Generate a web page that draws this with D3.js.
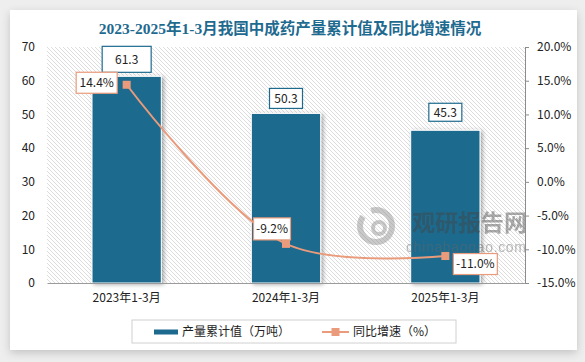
<!DOCTYPE html>
<html>
<head>
<meta charset="utf-8">
<script src="https://cdn.jsdelivr.net/npm/d3@7"></script>
<style>
  body { margin: 0; background: #eeeeee; }
  svg { display: block; }
  text { font-family: "Noto Sans CJK SC", "Liberation Sans", sans-serif; }
</style>
</head>
<body>
<div id="chart"></div>
<script>
// data
const categories = ["2023年1-3月", "2024年1-3月", "2025年1-3月"];
const output = [61.3, 50.3, 45.3];       // 产量累计值（万吨）
const growth = [14.4, -9.2, -11.0];      // 同比增速（%）
const leftTicks = [0, 10, 20, 30, 40, 50, 60, 70];
const rightTicks = [-15, -10, -5, 0, 5, 10, 15, 20];

const width = 585, height = 362;
const plot = { left: 47, right: 525, top: 47, bottom: 283 };
const barColor = "#1d6a8e", lineColor = "#e99b7b";

// label box layout (hand placed like the original)
const valueBoxes = [
  { w: 49, h: 26, gap: 4 },
  { w: 33, h: 20, gap: 5 },
  { w: 33, h: 18, gap: 9 }
];
const growthBoxes = [
  { dx: -30, dy: -2, w: 41, h: 21 },
  { dx: -14, dy: -15, w: 37, h: 22 },
  { dx: 30, dy: 8, w: 44, h: 21 }
];

let svg = d3.select("#chart").append("svg")
    .attr("width", width)
    .attr("height", height);

let defs = svg.append("defs");
let cardShadow = defs.append("filter").attr("id", "cardShadow")
    .attr("x", "-5%").attr("y", "-5%").attr("width", "110%").attr("height", "115%");
cardShadow.append("feDropShadow").attr("dx", 0).attr("dy", 3).attr("stdDeviation", 4)
    .attr("flood-color", "#000").attr("flood-opacity", 0.18);

let barShadow = defs.append("filter").attr("id", "barShadow")
    .attr("x", "-20%").attr("y", "-10%").attr("width", "140%").attr("height", "120%");
barShadow.append("feDropShadow").attr("dx", 2).attr("dy", 1).attr("stdDeviation", 2)
    .attr("flood-color", "#000").attr("flood-opacity", 0.35);

let hatch = defs.append("pattern").attr("id", "hatch")
    .attr("patternUnits", "userSpaceOnUse")
    .attr("width", 4).attr("height", 4);
hatch.append("rect").attr("width", 4).attr("height", 4).attr("fill", "#fff");
hatch.append("path")
    .attr("d", "M-1,-1 L5,5 M3,-1 L5,1 M-1,3 L1,5")
    .attr("stroke", "#d4d4d4").attr("stroke-width", 0.8);

// card
svg.append("rect")
    .attr("x", 10).attr("y", 10).attr("width", 567).attr("height", 340)
    .attr("fill", "#fff")
    .attr("filter", "url(#cardShadow)");

// title
svg.append("text")
    .attr("x", 290).attr("y", 34)
    .attr("text-anchor", "middle")
    .style("font-family", "'Liberation Serif', 'Noto Sans CJK SC', serif")
    .style("font-weight", "bold")
    .style("font-size", "15.5px")
    .attr("fill", "#1f6a8f")
    .text("2023-2025年1-3月我国中成药产量累计值及同比增速情况");

// scales
let x = d3.scaleBand()
    .domain(categories)
    .range([plot.left, plot.right])
    .padding(0);

let yLeft = d3.scaleLinear().domain([0, 70]).range([plot.bottom, plot.top]);
let yRight = d3.scaleLinear().domain([-15, 20]).range([plot.bottom, plot.top]);

// hatched plot background
svg.append("rect")
    .attr("x", plot.left).attr("y", plot.top)
    .attr("width", plot.right - plot.left).attr("height", plot.bottom - plot.top)
    .attr("fill", "url(#hatch)");

// bars
const barWidth = x.bandwidth() * 0.435;
svg.append("g").selectAll("rect")
    .data(output)
    .enter()
    .append("rect")
    .attr("x", (d, i) => x(categories[i]) + (x.bandwidth() - barWidth) / 2)
    .attr("y", d => yLeft(d))
    .attr("width", barWidth)
    .attr("height", d => yLeft(0) - yLeft(d))
    .attr("fill", barColor)
    .attr("stroke", "#fff")
    .attr("stroke-width", 1)
    .attr("filter", "url(#barShadow)");

// watermark (sits over the bars, like the original)
let wm = svg.append("g").attr("opacity", 0.45);
wm.append("circle").attr("cx", 376).attr("cy", 226).attr("r", 16)
    .attr("fill", "none").attr("stroke", "#8a8a8a").attr("stroke-width", 6)
    .attr("stroke-dasharray", "60 10");
wm.append("circle").attr("cx", 379).attr("cy", 228).attr("r", 6)
    .attr("fill", "none").attr("stroke", "#8a8a8a").attr("stroke-width", 4);
wm.append("text").attr("x", 412).attr("y", 231)
    .style("font-size", "23px").style("font-weight", "bold")
    .attr("fill", "#444").text("观研报告网");
wm.append("text").attr("x", 406).attr("y", 252)
    .style("font-family", "'Liberation Sans', sans-serif")
    .style("font-size", "14px").attr("fill", "#666")
    .attr("textLength", 120)
    .text("chinabaogao.com");

// left axis (labels only)
let leftAxis = svg.append("g")
    .attr("transform", `translate(${plot.left}, 0)`)
    .call(d3.axisLeft(yLeft).tickValues(leftTicks).tickSize(0).tickPadding(12));
leftAxis.select(".domain").remove();
leftAxis.selectAll("text").style("font-size", "12px").attr("fill", "#222");

// right axis
let rightAxis = svg.append("g")
    .attr("transform", `translate(${plot.right}, 0)`)
    .call(d3.axisRight(yRight).tickValues(rightTicks).tickSize(4).tickSizeOuter(0).tickPadding(8)
        .tickFormat(d => d.toFixed(1) + "%"));
rightAxis.select(".domain").attr("stroke", "#8c8c8c");
rightAxis.selectAll("line").attr("stroke", "#8c8c8c");
rightAxis.selectAll("text").style("font-size", "12px").attr("fill", "#222");

// bottom axis
let bottomAxis = svg.append("g")
    .attr("transform", `translate(0, ${plot.bottom})`)
    .call(d3.axisBottom(x).tickSize(0).tickPadding(10));
bottomAxis.select(".domain").attr("stroke", "#9a9a9a");
bottomAxis.selectAll("text").style("font-size", "12px").attr("fill", "#222");

// growth line
let cx = i => x(categories[i]) + x.bandwidth() / 2;
let line = d3.line()
    .x((d, i) => cx(i))
    .y(d => yRight(d))
    .curve(d3.curveCatmullRom.alpha(0.5));

svg.append("path")
    .datum(growth)
    .attr("d", line)
    .attr("fill", "none")
    .attr("stroke", lineColor)
    .attr("stroke-width", 2);

svg.append("g").selectAll("rect")
    .data(growth)
    .enter()
    .append("rect")
    .attr("x", (d, i) => cx(i) - 4)
    .attr("y", d => yRight(d) - 4)
    .attr("width", 8).attr("height", 8)
    .attr("fill", lineColor);

// value labels for bars
let vl = svg.append("g").selectAll("g")
    .data(output)
    .enter()
    .append("g")
    .attr("transform", (d, i) => {
        let b = valueBoxes[i];
        return `translate(${cx(i)}, ${yLeft(d) - b.gap - b.h / 2})`;
    });
vl.append("rect")
    .attr("x", (d, i) => -valueBoxes[i].w / 2)
    .attr("y", (d, i) => -valueBoxes[i].h / 2)
    .attr("width", (d, i) => valueBoxes[i].w)
    .attr("height", (d, i) => valueBoxes[i].h)
    .attr("fill", "#fff")
    .attr("stroke", barColor).attr("stroke-width", 1.2);
vl.append("text")
    .attr("text-anchor", "middle")
    .attr("dy", "0.36em")
    .style("font-size", "12px")
    .attr("fill", "#222")
    .text(d => d.toFixed(1));

// growth labels
let gl = svg.append("g").selectAll("g")
    .data(growth)
    .enter()
    .append("g")
    .attr("transform", (d, i) => `translate(${cx(i) + growthBoxes[i].dx}, ${yRight(d) + growthBoxes[i].dy})`);
gl.append("rect")
    .attr("x", (d, i) => -growthBoxes[i].w / 2)
    .attr("y", (d, i) => -growthBoxes[i].h / 2)
    .attr("width", (d, i) => growthBoxes[i].w)
    .attr("height", (d, i) => growthBoxes[i].h)
    .attr("fill", "#fff")
    .attr("stroke", lineColor).attr("stroke-width", 1.2);
gl.append("text")
    .attr("text-anchor", "middle")
    .attr("dy", "0.36em")
    .style("font-size", "12px")
    .attr("fill", "#222")
    .text(d => d.toFixed(1) + "%");

// legend
let legend = svg.append("g");
legend.append("rect")
    .attr("x", 132).attr("y", 320).attr("width", 324).attr("height", 23)
    .attr("fill", "#fff").attr("stroke", "#d0d0d0");
legend.append("rect")
    .attr("x", 154).attr("y", 329.5).attr("width", 24).attr("height", 5)
    .attr("fill", barColor);
legend.append("text")
    .attr("x", 182).attr("y", 332).attr("dy", "0.36em")
    .style("font-size", "12px").attr("fill", "#222")
    .text("产量累计值（万吨）");
legend.append("line")
    .attr("x1", 322).attr("x2", 349).attr("y1", 332).attr("y2", 332)
    .attr("stroke", lineColor).attr("stroke-width", 2);
legend.append("rect")
    .attr("x", 331.5).attr("y", 328).attr("width", 8).attr("height", 8)
    .attr("fill", lineColor);
legend.append("text")
    .attr("x", 353).attr("y", 332).attr("dy", "0.36em")
    .style("font-size", "12px").attr("fill", "#222")
    .text("同比增速（%）");
</script>
</body>
</html>
